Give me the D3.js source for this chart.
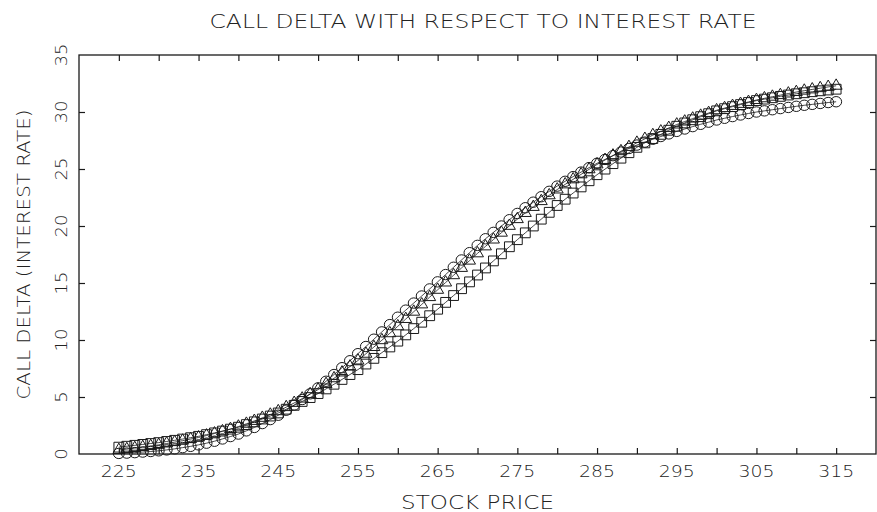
<!DOCTYPE html>
<html>
<head>
<meta charset="utf-8">
<script src="https://cdn.jsdelivr.net/npm/d3@7"></script>
<style>
  html, body { margin: 0; padding: 0; background: #fff; }
  svg text { font-family: "DejaVu Sans", sans-serif; font-weight: 200; fill: #222; }
</style>
</head>
<body>
<svg id="chart" width="877" height="512"></svg>
<script>
// Stock prices on the horizontal axis (one point per dollar)
const prices = d3.range(225, 316);

// Call delta with respect to interest rate, three parameter sets
const seriesCircle = [
  0.05, 0.08, 0.12, 0.17, 0.22, 0.28, 0.36, 0.45, 0.56, 0.67,
  0.80, 0.95, 1.12, 1.32, 1.53, 1.75, 2.03, 2.33, 2.67, 3.02,
  3.40, 3.84, 4.30, 4.78, 5.28, 5.80, 6.38, 6.97, 7.57, 8.18,
  8.80, 9.43, 10.07, 10.71, 11.35, 12.00, 12.62, 13.24, 13.86, 14.48,
  15.10, 15.74, 16.38, 17.02, 17.66, 18.30, 18.88, 19.44, 20.00, 20.55,
  21.10, 21.60, 22.09, 22.57, 23.04, 23.50, 23.92, 24.33, 24.73, 25.12,
  25.50, 25.84, 26.17, 26.49, 26.80, 27.10, 27.36, 27.61, 27.85, 28.08,
  28.30, 28.51, 28.72, 28.92, 29.11, 29.30, 29.45, 29.60, 29.74, 29.87,
  30.00, 30.10, 30.20, 30.30, 30.40, 30.50, 30.59, 30.67, 30.75, 30.83,
  30.90
];
const seriesTriangle = [
  0.35, 0.43, 0.52, 0.61, 0.70, 0.80, 0.92, 1.04, 1.17, 1.31,
  1.45, 1.62, 1.80, 1.99, 2.19, 2.40, 2.65, 2.90, 3.17, 3.45,
  3.75, 4.11, 4.48, 4.86, 5.25, 5.65, 6.14, 6.64, 7.15, 7.67,
  8.20, 8.79, 9.38, 9.98, 10.59, 11.20, 11.84, 12.48, 13.12, 13.76,
  14.40, 15.04, 15.68, 16.32, 16.96, 17.60, 18.21, 18.81, 19.41, 20.01,
  20.60, 21.14, 21.67, 22.18, 22.69, 23.20, 23.65, 24.09, 24.53, 24.97,
  25.40, 25.79, 26.18, 26.56, 26.93, 27.30, 27.64, 27.97, 28.29, 28.60,
  28.90, 29.16, 29.42, 29.67, 29.91, 30.15, 30.34, 30.53, 30.71, 30.88,
  31.05, 31.20, 31.34, 31.48, 31.62, 31.75, 31.87, 31.98, 32.09, 32.20,
  32.30
];
const seriesSquare = [
  0.60, 0.68, 0.76, 0.84, 0.92, 1.00, 1.10, 1.20, 1.31, 1.43,
  1.55, 1.70, 1.85, 2.01, 2.18, 2.35, 2.58, 2.82, 3.07, 3.33,
  3.60, 3.93, 4.27, 4.61, 4.95, 5.30, 5.71, 6.12, 6.54, 6.97,
  7.40, 7.89, 8.39, 8.89, 9.39, 9.90, 10.45, 11.00, 11.56, 12.13,
  12.70, 13.30, 13.90, 14.50, 15.10, 15.70, 16.32, 16.94, 17.56, 18.18,
  18.80, 19.40, 20.00, 20.60, 21.20, 21.80, 22.35, 22.89, 23.43, 23.97,
  24.50, 24.99, 25.47, 25.95, 26.43, 26.90, 27.29, 27.67, 28.04, 28.40,
  28.75, 29.04, 29.32, 29.59, 29.85, 30.10, 30.29, 30.47, 30.65, 30.83,
  31.00, 31.13, 31.25, 31.37, 31.49, 31.60, 31.69, 31.78, 31.86, 31.93,
  32.00
];

// Axis ticks and labels
const xTicks = [225, 230, 235, 240, 245, 250, 255, 260, 265, 270, 275, 280, 285, 290, 295, 300, 305, 310, 315];
const xTickLabels = [225, 235, 245, 255, 265, 275, 285, 295, 305, 315];
const yTicks = [0, 5, 10, 15, 20, 25, 30, 35];

const titleText = "CALL DELTA WITH RESPECT TO INTEREST RATE";
const xLabelText = "STOCK PRICE";
const yLabelText = "CALL DELTA (INTEREST RATE)";

const svg = d3.select("#chart");
const plotLeft = 79, plotRight = 876, plotTop = 55, plotBottom = 454;

const x = d3.scaleLinear().domain([220, 320]).range([plotLeft, plotRight]);
const y = d3.scaleLinear().domain([0, 35]).range([plotBottom, plotTop]);

const ink = "#1a1a1a";
const tickLen = 6;

// Frame
svg.append("rect")
  .attr("x", plotLeft).attr("y", plotTop)
  .attr("width", plotRight - plotLeft).attr("height", plotBottom - plotTop)
  .attr("fill", "none").attr("stroke", ink).attr("stroke-width", 1.3);

// Inward ticks on all four sides
const bottomAxis = d3.axisBottom(x).tickValues(xTicks).tickSize(-tickLen).tickFormat("");
const topAxis = d3.axisTop(x).tickValues(xTicks).tickSize(-tickLen).tickFormat("");
const leftAxis = d3.axisLeft(y).tickValues(yTicks.slice(1, -1)).tickSize(-tickLen).tickFormat("");
const rightAxis = d3.axisRight(y).tickValues(yTicks.slice(1, -1)).tickSize(-tickLen).tickFormat("");

[[bottomAxis, `translate(0,${plotBottom})`], [topAxis, `translate(0,${plotTop})`],
 [leftAxis, `translate(${plotLeft},0)`], [rightAxis, `translate(${plotRight},0)`]].forEach(([ax, tr]) => {
  const g = svg.append("g").attr("transform", tr).call(ax);
  g.select(".domain").remove();
  g.selectAll(".tick line").attr("stroke", ink).attr("stroke-width", 1.2);
});

// X tick labels
svg.append("g").selectAll("text").data(xTickLabels).join("text")
  .attr("x", d => x(d)).attr("y", 477)
  .attr("text-anchor", "middle")
  .attr("font-size", 15.5)
  .attr("textLength", 36).attr("lengthAdjust", "spacingAndGlyphs")
  .text(d => d);

// Y tick labels, rotated to read upward
svg.append("g").selectAll("text").data(yTicks).join("text")
  .attr("transform", d => `translate(67,${y(d)}) rotate(-90)`)
  .attr("text-anchor", "middle")
  .attr("font-size", 15.5)
  .attr("textLength", d => String(d).length * 11.5).attr("lengthAdjust", "spacingAndGlyphs")
  .text(d => d);

// Title and axis titles
svg.append("text")
  .attr("x", 483).attr("y", 28)
  .attr("text-anchor", "middle").attr("font-size", 19)
  .attr("textLength", 547).attr("lengthAdjust", "spacingAndGlyphs")
  .text(titleText);

svg.append("text")
  .attr("x", x(270)).attr("y", 509)
  .attr("text-anchor", "middle").attr("font-size", 19)
  .attr("textLength", 153).attr("lengthAdjust", "spacingAndGlyphs")
  .text(xLabelText);

svg.append("text")
  .attr("transform", `translate(30,${(plotTop + plotBottom) / 2}) rotate(-90)`)
  .attr("text-anchor", "middle").attr("font-size", 18)
  .attr("textLength", 290).attr("lengthAdjust", "spacingAndGlyphs")
  .text(yLabelText);

// Series: thin connecting line plus hollow markers
const series = [
  { values: seriesCircle, symbol: null },
  { values: seriesTriangle, symbol: d3.symbol().type(d3.symbolTriangle).size(62) },
  { values: seriesSquare, symbol: d3.symbol().type(d3.symbolSquare).size(96) }
];

const line = d3.line().x(d => x(d[0])).y(d => y(d[1]));

series.forEach(s => {
  const pts = prices.map((p, i) => [p, s.values[i]]);
  const g = svg.append("g");
  g.append("path").datum(pts).attr("d", line)
    .attr("fill", "none").attr("stroke", ink).attr("stroke-width", 0.8);
  if (s.symbol) {
    g.selectAll("path.m").data(pts).join("path").attr("class", "m")
      .attr("transform", d => `translate(${x(d[0])},${y(d[1])})`)
      .attr("d", s.symbol)
      .attr("fill", "none").attr("stroke", ink).attr("stroke-width", 1);
  } else {
    g.selectAll("ellipse").data(pts).join("ellipse")
      .attr("cx", d => x(d[0])).attr("cy", d => y(d[1]))
      .attr("rx", 5.5).attr("ry", 5.2)
      .attr("fill", "none").attr("stroke", ink).attr("stroke-width", 1);
  }
});
</script>
</body>
</html>
